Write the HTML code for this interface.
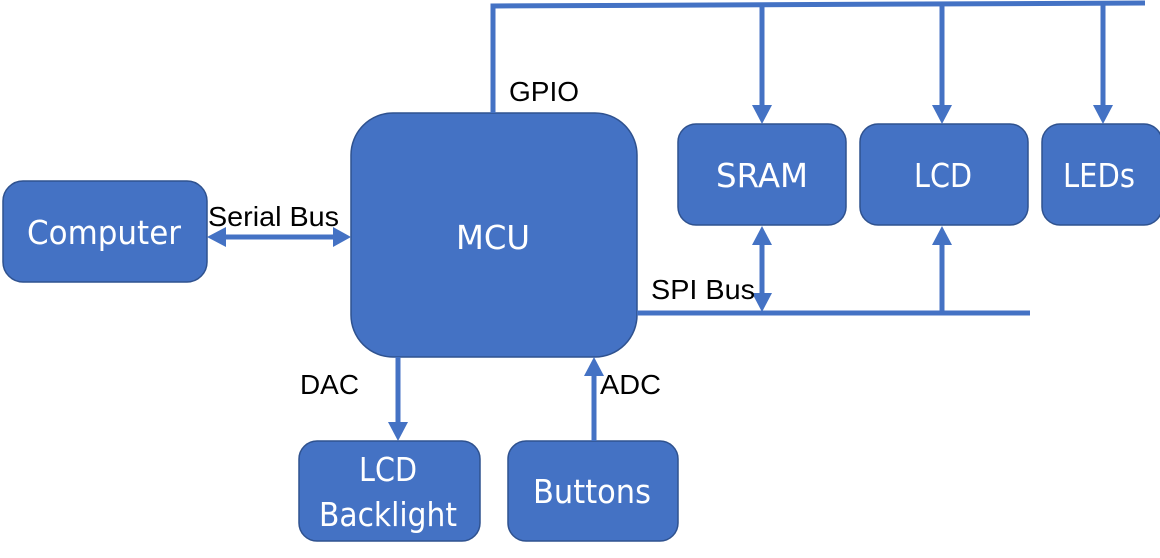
<!DOCTYPE html>
<html><head><style>
html,body{margin:0;padding:0;background:#fff;width:1160px;height:558px;overflow:hidden}
svg{display:block}
.b{fill:#4472C4;stroke:#2F528F;stroke-width:1.5}
.w{fill:#fff;font-family:"DejaVu Sans","Liberation Sans",sans-serif;font-size:33px;text-anchor:middle}
.k{fill:#000;font-family:"Liberation Sans",sans-serif;font-size:28px}
.l{stroke:#4472C4;stroke-width:5;fill:none}
.a{fill:#4472C4}
</style></head><body>
<svg width="1160" height="558" viewBox="0 0 1160 558">
<rect class="b" x="3" y="181" width="204" height="101" rx="20"/>
<text class="w" x="104" y="244" textLength="154" lengthAdjust="spacingAndGlyphs">Computer</text>
<rect class="b" x="351" y="113" width="286" height="244" rx="42"/>
<text class="w" x="493" y="249" textLength="74" lengthAdjust="spacingAndGlyphs">MCU</text>
<rect class="b" x="678" y="124" width="168" height="101" rx="18"/>
<text class="w" x="762" y="187" textLength="92" lengthAdjust="spacingAndGlyphs">SRAM</text>
<rect class="b" x="860" y="124" width="168" height="101" rx="18"/>
<text class="w" x="943" y="187" textLength="58" lengthAdjust="spacingAndGlyphs">LCD</text>
<rect class="b" x="1042" y="124" width="120" height="101" rx="18"/>
<text class="w" x="1099" y="187" textLength="72" lengthAdjust="spacingAndGlyphs">LEDs</text>
<rect class="b" x="299" y="441" width="181" height="100" rx="18"/>
<text class="w" x="388" y="481" textLength="58" lengthAdjust="spacingAndGlyphs">LCD</text>
<text class="w" x="388" y="526" textLength="138" lengthAdjust="spacingAndGlyphs">Backlight</text>
<rect class="b" x="508" y="441" width="170" height="100" rx="18"/>
<text class="w" x="592" y="503" textLength="118" lengthAdjust="spacingAndGlyphs">Buttons</text>

<path class="l" d="M493 113 V6 L1145 3"/>
<path class="l" d="M762 5 V108 M942 5 V108 M1103 4 V108"/>
<polygon class="a" points="752,105 772,105 762,124"/>
<polygon class="a" points="932,105 952,105 942,124"/>
<polygon class="a" points="1093,105 1113,105 1103,124"/>
<path class="l" d="M637 313 H1030"/>
<path class="l" d="M762 242 V296 M942 242 V313"/>
<polygon class="a" points="752,245 772,245 762,226"/>
<polygon class="a" points="752,293 772,293 762,312"/>
<polygon class="a" points="932,245 952,245 942,226"/>
<path class="l" d="M224 237 H334"/>
<polygon class="a" points="226,227 226,247 207,237"/>
<polygon class="a" points="333,227 333,247 351,237"/>
<path class="l" d="M398 357 V424"/>
<polygon class="a" points="388,422 408,422 398,441"/>
<path class="l" d="M594 441 V374"/>
<polygon class="a" points="584,376 604,376 594,357"/>

<text class="k" x="509" y="101" textLength="70" lengthAdjust="spacingAndGlyphs">GPIO</text>
<text class="k" x="651" y="299" textLength="104" lengthAdjust="spacingAndGlyphs">SPI Bus</text>
<text class="k" x="208" y="226" textLength="131" lengthAdjust="spacingAndGlyphs">Serial Bus</text>
<text class="k" x="300" y="394" textLength="59" lengthAdjust="spacingAndGlyphs">DAC</text>
<text class="k" x="600" y="394" textLength="61" lengthAdjust="spacingAndGlyphs">ADC</text>
</svg>
</body></html>
